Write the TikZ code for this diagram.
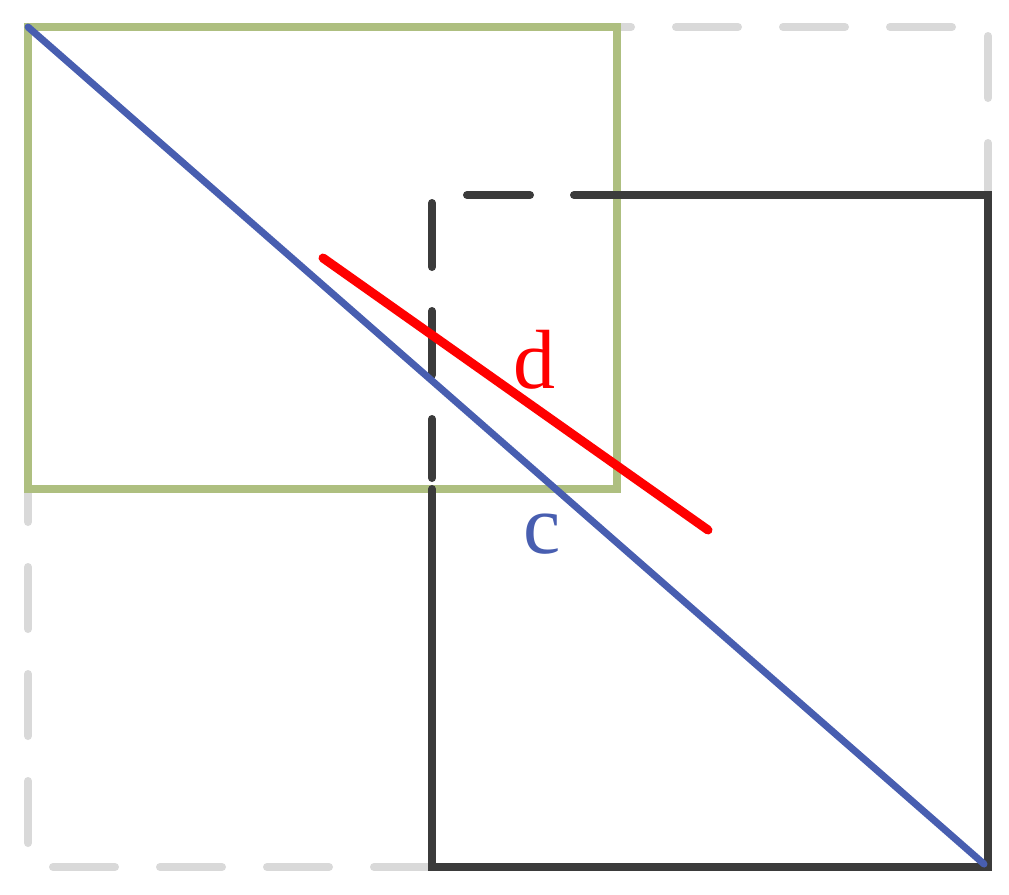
\documentclass[tikz,border=0pt]{standalone}
\usepackage{fontspec}
\setmainfont{Liberation Serif}

\tikzset{every picture/.style={line width=0.75pt}}
\tikzset{
  outerdash/.style={color={rgb, 255:red, 217; green, 217; blue, 217 }, line width=6pt, line cap=round, dash pattern=on 46.5pt off 33.75pt},
  innerdash/.style={color={rgb, 255:red, 59; green, 59; blue, 59 }, line width=6pt, line cap=round, dash pattern=on 48pt off 33pt},
  label/.style={anchor=base, inner sep=0.75pt, font=\fontsize{63}{63}\selectfont}
}

\begin{document}
\begin{tikzpicture}[x=0.75pt,y=0.75pt,yscale=-1,xscale=1]
\useasboundingbox (0,0) rectangle (1009,894);

%Shape: Rectangle, dashed outline [id:outer]
\draw [outerdash] (34,27) -- (988,27) ;
\draw [outerdash] (988,36) -- (988,867) ;
\draw [outerdash] (53,867) -- (988,867) ;
\draw [outerdash] (28,843) -- (28,27) ;
%Shape: Rectangle [id:green]
\draw [color={rgb, 255:red, 174; green, 191; blue, 128 }, line width=6pt] (28,27) rectangle (617,489) ;
%Shape: Rectangle, solid part [id:black]
\draw [color={rgb, 255:red, 59; green, 59; blue, 59 }, line width=6pt, line cap=round] (574,195) -- (988,195) -- (988,867) -- (432,867) -- (432,489) ;
%Straight Lines, dashed part [id:blacktop]
\draw [innerdash] (467,195) -- (530,195) ;
%Straight Lines, dashed part [id:blackleft]
\draw [innerdash] (432,203) -- (432,478) ;
%Straight Lines [id:c]
\draw [color={rgb, 255:red, 72; green, 94; blue, 176 }, line width=5.25pt, line cap=round] (28,27) -- (984,864) ;
%Straight Lines [id:d]
\draw [color={rgb, 255:red, 255; green, 0; blue, 0 }, line width=6.75pt, line cap=round] (323,258) -- (708,530) ;

% Text Node
\draw (534,388) node [label, color={rgb, 255:red, 255; green, 0; blue, 0 }] {d};
% Text Node
\draw (542,553) node [label, color={rgb, 255:red, 72; green, 94; blue, 176 }] {c};

\end{tikzpicture}
\end{document}
